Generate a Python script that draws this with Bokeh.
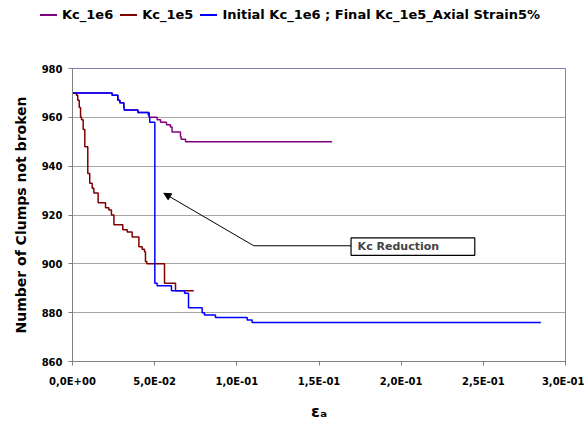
from bokeh.plotting import figure
from bokeh.layouts import column
from bokeh.models import (Range1d, FixedTicker, Arrow, NormalHead, Label,
                          BoxAnnotation, Div)
from bokeh.embed import file_html
from bokeh.resources import INLINE

# Axial strain (x) and number of intact clumps (y), one pair of arrays per run
kc_1e6_x = [0.0, 0.0241, 0.0276, 0.0288, 0.0312, 0.0315, 0.0398, 0.0467,
            0.0515, 0.0536, 0.0572, 0.0596, 0.0606, 0.0657, 0.0661, 0.0688, 0.158]
kc_1e6_y = [970, 969, 967, 966, 964, 963, 962, 960,
            959, 958, 957, 956, 954, 952, 951, 950, 950]

kc_1e5_x = [0.0, 0.0024, 0.0032, 0.0041, 0.0049, 0.0055, 0.0065, 0.0075,
            0.0093, 0.0105, 0.0120, 0.0130, 0.0156, 0.0201, 0.0221, 0.0237,
            0.0252, 0.0306, 0.0333, 0.0363, 0.0404, 0.0424, 0.0438, 0.0444,
            0.0452, 0.0560, 0.0627, 0.0738]
kc_1e5_y = [970, 969, 967, 964, 960, 959, 955, 948,
            937, 933, 931, 929, 925, 923, 922, 920,
            916, 914, 913, 911, 907, 906, 905, 901,
            900, 892, 889, 889]

switch_x = [0.0, 0.0241, 0.0276, 0.0288, 0.0312, 0.0315, 0.0398, 0.0461,
            0.0467, 0.0470, 0.0501, 0.0515, 0.0602, 0.0682, 0.0706, 0.0789,
            0.0803, 0.0870, 0.1063, 0.1093, 0.285]
switch_y = [970, 969, 967, 966, 964, 963, 962, 961,
            960, 958, 892, 891, 889, 888, 882, 880,
            879, 878, 877, 876, 876]

series_names = ["Kc_1e6", "Kc_1e5", "Initial Kc_1e6 ; Final Kc_1e5_Axial Strain5%"]
series_colors = ["#800080", "#800000", "#0000ff"]

x_ticks = [0.0, 0.05, 0.10, 0.15, 0.20, 0.25, 0.30]
x_tick_labels = ["0,0E+00", "5,0E-02", "1,0E-01", "1,5E-01", "2,0E-01", "2,5E-01", "3,0E-01"]
y_ticks = [860, 880, 900, 920, 940, 960, 980]

FONT = "DejaVu Sans"
KEY_H = 40   # height of the series key strip above the chart

# ---- chart ------------------------------------------------------------------
p = figure(width=584, height=423 - KEY_H, output_backend="svg", toolbar_location=None,
           x_range=Range1d(0, 0.30), y_range=Range1d(860, 980),
           min_border_left=72, min_border_right=19, min_border_top=68 - KEY_H,
           min_border_bottom=61)
p.background_fill_color = "white"
p.border_fill_color = "white"
p.outline_line_color = "#8080b0"
p.outline_line_width = 1

p.xaxis.ticker = FixedTicker(ticks=x_ticks)
p.xaxis.major_label_overrides = dict(zip(x_ticks, x_tick_labels))
p.yaxis.ticker = FixedTicker(ticks=y_ticks)
for ax in (p.xaxis, p.yaxis):
    ax.axis_line_color = "#808080"
    ax.major_tick_line_color = "#808080"
    ax.major_tick_in = 0
    ax.major_tick_out = 4
    ax.minor_tick_line_color = None
    ax.major_label_text_font = FONT
    ax.major_label_text_font_style = "bold"
    ax.major_label_text_font_size = "10px"
    ax.major_label_text_color = "black"
    ax.axis_label_text_font = FONT
    ax.axis_label_text_font_style = "bold"
    ax.axis_label_text_color = "black"
p.xaxis.major_label_standoff = 10
p.yaxis.major_label_standoff = 6
p.xaxis.axis_label = "εₐ"
p.xaxis.axis_label_text_font_size = "16px"
p.xaxis.axis_label_standoff = 12
p.yaxis.axis_label = "Number of Clumps not broken"
p.yaxis.axis_label_text_font_size = "14px"
p.yaxis.axis_label_standoff = 10

p.xgrid.grid_line_color = None
p.ygrid.grid_line_color = "#a6a6a6"
p.ygrid.grid_line_width = 1

p.step(kc_1e6_x, kc_1e6_y, mode="after", line_color=series_colors[0], line_width=1.5)
p.step(kc_1e5_x, kc_1e5_y, mode="after", line_color=series_colors[1], line_width=1.5)
p.step(switch_x, switch_y, mode="after", line_color=series_colors[2], line_width=1.5)

# Callout for the stiffness reduction
p.add_layout(Arrow(end=NormalHead(size=7, fill_color="black", line_color="black"),
                   x_start=0.1103, y_start=907.4, x_end=0.0556, y_end=928.9,
                   line_color="black", line_width=1))
p.add_layout(Arrow(end=None, x_start=0.1103, y_start=907.4, x_end=0.1695, y_end=907.4,
                   line_color="black", line_width=1))
p.add_layout(BoxAnnotation(left=0.1695, right=0.2448, bottom=903.5, top=910.6,
                           fill_color="white", fill_alpha=1,
                           line_color="black", line_width=1.2, line_alpha=1))
p.add_layout(Label(x=0.1735, y=907.0, text="Kc Reduction",
                   text_font=FONT, text_font_style="bold", text_font_size="11px",
                   text_baseline="middle", text_align="left"))

# ---- series key strip -------------------------------------------------------
item_html = []
for name, color in zip(series_names, series_colors):
    item_html.append(
        '<span style="display:flex;align-items:center;margin-right:7px;">'
        f'<span style="display:inline-block;width:17px;height:2px;background:{color};'
        'margin-right:5px;"></span>'
        f'<span>{name}</span></span>')
key_html = (
    f'<div style="display:flex;align-items:center;height:30px;padding-left:40px;'
    f'font-family:\'{FONT}\';font-weight:bold;font-size:13px;color:black;'
    'white-space:nowrap;">' + "".join(item_html) + '</div>')
key = Div(text=key_html, width=584, height=KEY_H, margin=(0, 0, 0, 0))

page = column(key, p, spacing=0)
open("out.html", "w").write(file_html(page, INLINE))
